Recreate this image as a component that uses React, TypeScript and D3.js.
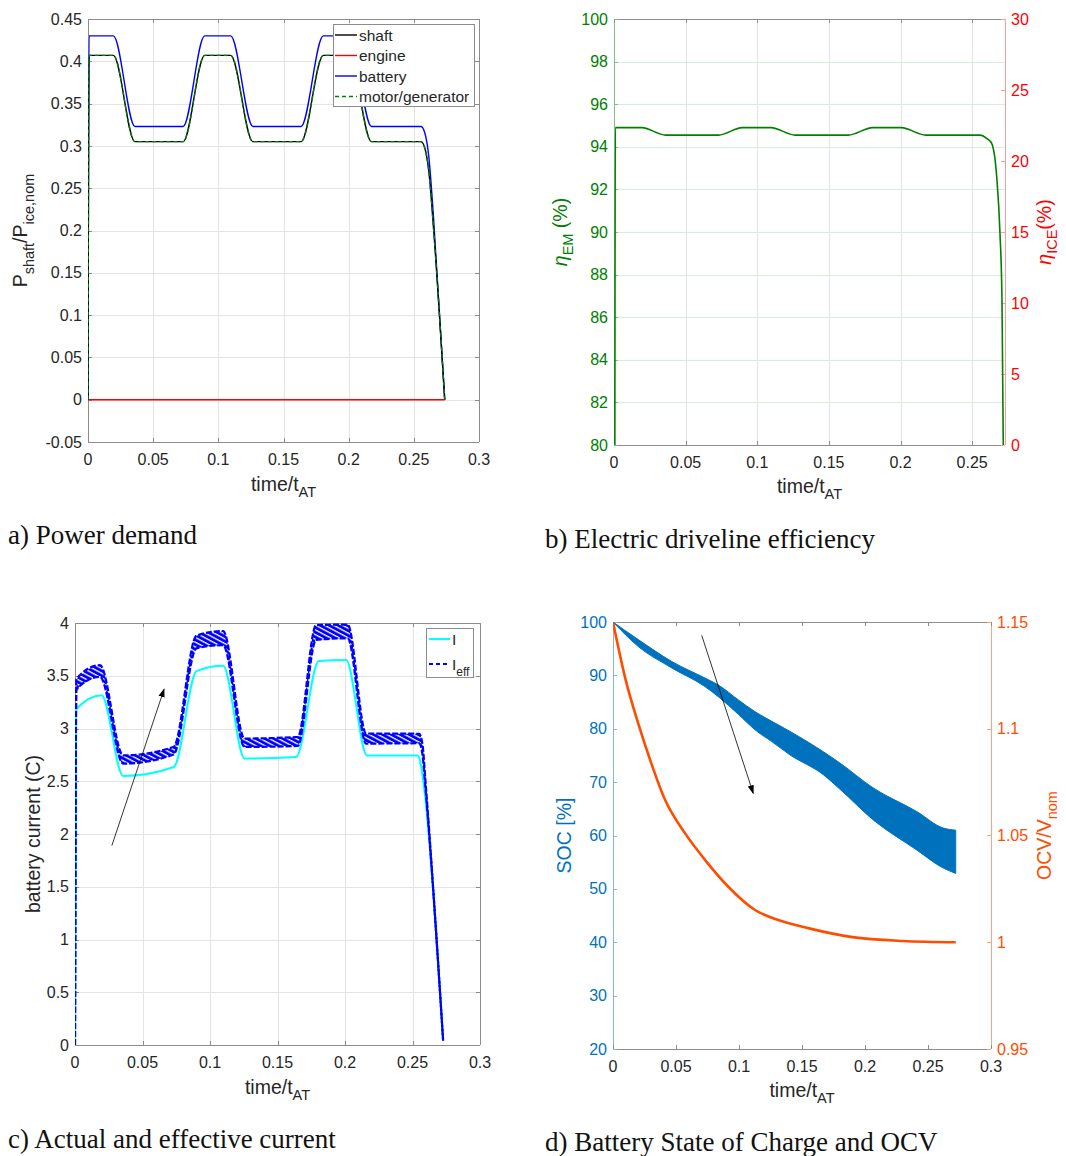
import React from "react";
import * as d3 from "d3";

// ---------------- Panel a: power demand ----------------
const powerTime = [0, 0.0008, 0.0195, 0.036, 0.073, 0.0895, 0.1095, 0.1265, 0.1635, 0.1805, 0.2005, 0.2175, 0.2555, 0.2585, 0.2615, 0.265, 0.2737];
const shaftPower = [0, 0.407, 0.407, 0.305, 0.305, 0.407, 0.407, 0.305, 0.305, 0.407, 0.407, 0.305, 0.305, 0.297, 0.27, 0.205, 0];
const motorPower = [0, 0.407, 0.407, 0.305, 0.305, 0.407, 0.407, 0.305, 0.305, 0.407, 0.407, 0.305, 0.305, 0.297, 0.27, 0.205, 0];
const batteryPower = [0, 0.43, 0.43, 0.323, 0.323, 0.43, 0.43, 0.323, 0.323, 0.43, 0.43, 0.323, 0.323, 0.315, 0.287, 0.218, 0];
const engineTime = [0, 0.2737];
const enginePower = [0, 0];
const powerLegend = ["shaft", "engine", "battery", "motor/generator"];

// ---------------- Panel b: efficiency ----------------
const effTime = [0.0006, 0.0009, 0.0195, 0.036, 0.073, 0.0895, 0.1095, 0.1265, 0.1635, 0.1805, 0.2005, 0.2175, 0.2554, 0.2601, 0.2636, 0.2671, 0.2694, 0.2708, 0.2717];
const effEM = [80, 94.9, 94.9, 94.55, 94.55, 94.9, 94.9, 94.55, 94.55, 94.9, 94.9, 94.55, 94.55, 94.4, 94.16, 92.6, 89.94, 86.8, 80];

// ---------------- Panel c: battery current ----------------
const curTime = [0, 0.0007, 0.0197, 0.0357, 0.0732, 0.09, 0.1097, 0.1256, 0.1638, 0.1806, 0.2008, 0.2163, 0.2537, 0.2555, 0.258, 0.2727];
const curI = [0, 3.18, 3.316, 2.55, 2.635, 3.544, 3.595, 2.715, 2.73, 3.64, 3.65, 2.745, 2.745, 2.7, 2.5, 0.04];
const effCurTime = [0, 0.001, 0.0185, 0.0357, 0.073, 0.09, 0.1097, 0.1256, 0.165, 0.1786, 0.202, 0.2156, 0.255, 0.2575, 0.2595, 0.2727];
const effCurLow = [0, 3.37, 3.49, 2.667, 2.753, 3.76, 3.79, 2.825, 2.835, 3.84, 3.855, 2.857, 2.86, 2.74, 2.45, 0.04];
const effCurHigh = [0, 3.47, 3.6, 2.745, 2.825, 3.88, 3.924, 2.905, 2.92, 3.98, 3.985, 2.953, 2.95, 2.84, 2.52, 0.04];
const arrowC = { from: [0.0273, 1.89], to: [0.066, 3.373] };

// ---------------- Panel d: SOC and OCV ----------------
const socTime = [0, 0.0201, 0.0466, 0.073, 0.0836, 0.0995, 0.1127, 0.126, 0.1405, 0.1669, 0.18, 0.2066, 0.241, 0.2621, 0.272];
const socHigh = [100, 96.7, 92.6, 89.5, 88.2, 85.4, 83.2, 81.4, 79.5, 75.7, 73.6, 68.9, 64.5, 61.4, 61];
const socLow = [100, 95.4, 91.4, 87.9, 86.0, 82.7, 79.8, 77.6, 75.1, 71.4, 68.7, 62.9, 57.3, 53.9, 52.9];
const ocvTime = [0, 0.01, 0.02, 0.03, 0.0413, 0.0571, 0.073, 0.0915, 0.1127, 0.1312, 0.1556, 0.19, 0.23, 0.272];
const ocvRatio = [1.15, 1.123, 1.1025, 1.0845, 1.0667, 1.0511, 1.0386, 1.026, 1.0151, 1.0104, 1.0065, 1.0024, 1.0006, 1.0];
const arrowD = { from: [0.0704, 97.5], to: [0.1113, 67.9] };

// ---------------- ticks ----------------
const timeTicks = [0, 0.05, 0.1, 0.15, 0.2, 0.25, 0.3];
const powerTicks = [-0.05, 0, 0.05, 0.1, 0.15, 0.2, 0.25, 0.3, 0.35, 0.4, 0.45];
const emTicks = [80, 82, 84, 86, 88, 90, 92, 94, 96, 98, 100];
const iceTicks = [0, 5, 10, 15, 20, 25, 30];
const currentTicks = [0, 0.5, 1, 1.5, 2, 2.5, 3, 3.5, 4];
const socTicks = [20, 30, 40, 50, 60, 70, 80, 90, 100];
const ocvTicks = [0.95, 1, 1.05, 1.1, 1.15];
const captions = ["a) Power demand", "b) Electric driveline efficiency", "c) Actual and effective current", "d) Battery State of Charge and OCV"];

// ---------------- styles ----------------
const SANS = "'Liberation Sans', Arial, Helvetica, sans-serif";
const SERIF = "'Liberation Serif', 'Times New Roman', serif";
const TXT = "#262626";
const AXIS = "#8c8c8c";
const GRID = "#e4e4e4";
const TICK_FS = 16;
const LABEL_FS = 19.5;
const SUB_FS = 14.5;

type Lin = d3.ScaleLinear<number, number>;
const px = (v: number) => Math.round(v) + 0.5;
const fmt = (v: number) => String(+v.toFixed(3));

function pairs(t: number[], v: number[]): [number, number][] {
  return t.map((ti, i) => [ti, v[i]] as [number, number]);
}
function pathOf(x: Lin, y: Lin, t: number[], v: number[]) {
  return d3.line<[number, number]>().x(d => x(d[0])).y(d => y(d[1])).curve(d3.curveMonotoneX)(pairs(t, v)) || "";
}
function bandOf(x: Lin, y: Lin, t: number[], lo: number[], hi: number[]) {
  const data = t.map((ti, i) => ({ t: ti, lo: lo[i], hi: hi[i] }));
  return d3.area<{ t: number; lo: number; hi: number }>().x(d => x(d.t)).y0(d => y(d.lo)).y1(d => y(d.hi)).curve(d3.curveMonotoneX)(data) || "";
}

interface FrameProps {
  x: Lin; y: Lin; xt: number[]; yt: number[];
  grid?: boolean; gridH?: string;
  leftAxis?: string; rightAxis?: string; leftText?: string;
  yR?: Lin; ytR?: number[]; rightText?: string;
}

function Frame(p: FrameProps) {
  const [x0, x1] = p.x.range();
  const [yb, yt0] = p.y.range();
  const xd = p.x.domain()[1];
  const xt = p.xt.filter(t => t <= xd + 1e-9);
  const L = 4;
  return (
    <g>
      {p.grid && xt.map(t => (
        <line key={"gx" + t} x1={px(p.x(t))} x2={px(p.x(t))} y1={yt0} y2={yb} stroke={GRID} strokeWidth={1} />
      ))}
      {p.grid && p.yt.map(v => (
        <line key={"gy" + v} x1={x0} x2={x1} y1={px(p.y(v))} y2={px(p.y(v))} stroke={p.gridH || GRID} strokeWidth={1} />
      ))}
      <line x1={x0} x2={x1} y1={px(yb)} y2={px(yb)} stroke={AXIS} />
      <line x1={x0} x2={x1} y1={px(yt0)} y2={px(yt0)} stroke={AXIS} />
      <line x1={px(x0)} x2={px(x0)} y1={yt0} y2={yb} stroke={p.leftAxis || AXIS} />
      <line x1={px(x1)} x2={px(x1)} y1={yt0} y2={yb} stroke={p.rightAxis || AXIS} />
      {xt.map(t => (
        <g key={"tx" + t}>
          <line x1={px(p.x(t))} x2={px(p.x(t))} y1={yb} y2={yb - L} stroke={AXIS} />
          <line x1={px(p.x(t))} x2={px(p.x(t))} y1={yt0} y2={yt0 + L} stroke={AXIS} />
          <text x={p.x(t)} y={yb + 23} textAnchor="middle" fontSize={TICK_FS} fill={TXT}>{fmt(t)}</text>
        </g>
      ))}
      {p.yt.map(v => (
        <g key={"ty" + v}>
          <line x1={x0} x2={x0 + L} y1={px(p.y(v))} y2={px(p.y(v))} stroke={p.leftAxis || AXIS} />
          {!p.yR && <line x1={x1} x2={x1 - L} y1={px(p.y(v))} y2={px(p.y(v))} stroke={AXIS} />}
          <text x={x0 - 6} y={p.y(v)} dy="0.35em" textAnchor="end" fontSize={TICK_FS} fill={p.leftText || TXT}>{fmt(v)}</text>
        </g>
      ))}
      {p.yR && p.ytR && p.ytR.map(v => (
        <g key={"tr" + v}>
          <line x1={x1} x2={x1 - L} y1={px(p.yR!(v))} y2={px(p.yR!(v))} stroke={p.rightAxis || AXIS} />
          <text x={x1 + 6} y={p.yR!(v)} dy="0.35em" textAnchor="start" fontSize={TICK_FS} fill={p.rightText || TXT}>{fmt(v)}</text>
        </g>
      ))}
    </g>
  );
}

function TimeLabel({ cx, y }: { cx: number; y: number }) {
  return (
    <text x={cx} y={y} textAnchor="middle" fontSize={LABEL_FS} fill={TXT}>
      time/t<tspan fontSize={SUB_FS} dy={6}>AT</tspan>
    </text>
  );
}

function Clip({ id, x, y }: { id: string; x: Lin; y: Lin }) {
  const [x0, x1] = x.range();
  const [yb, yt0] = y.range();
  return (
    <clipPath id={id}>
      <rect x={x0} y={yt0} width={x1 - x0 + 1} height={yb - yt0 + 1} />
    </clipPath>
  );
}

function PanelA() {
  const x = d3.scaleLinear().domain([0, 0.3]).range([88, 479]);
  const y = d3.scaleLinear().domain([-0.05, 0.45]).range([442, 19]);
  const legendColors = ["#000000", "#FF0000", "#0000FF", "#008000"];
  const lx = 333, ly = 24;
  return (
    <g>
      <Clip id="clipA" x={x} y={y} />
      <Frame x={x} y={y} xt={timeTicks} yt={powerTicks} grid />
      <g clipPath="url(#clipA)" fill="none">
        <path d={pathOf(x, y, engineTime, enginePower)} stroke="#FF0000" strokeWidth={1.4} />
        <path d={pathOf(x, y, powerTime, batteryPower)} stroke="#0000FF" strokeWidth={1.4} />
        <path d={pathOf(x, y, powerTime, shaftPower)} stroke="#000000" strokeWidth={1.4} />
        <path d={pathOf(x, y, powerTime, motorPower)} stroke="#008000" strokeWidth={1.4} strokeDasharray="4 3" />
      </g>
      <g>
        <rect x={px(lx)} y={px(ly)} width={141} height={82} fill="#fff" stroke={AXIS} />
        {powerLegend.map((name, i) => {
          const yy = ly + 11 + i * 20.5;
          return (
            <g key={name}>
              <line x1={lx + 2} x2={lx + 24} y1={yy} y2={yy} stroke={legendColors[i]} strokeWidth={1.4} strokeDasharray={i === 3 ? "4 3" : undefined} />
              <text x={lx + 26} y={yy + 5.5} fontSize={15.5} fill={TXT}>{name}</text>
            </g>
          );
        })}
      </g>
      <TimeLabel cx={283.5} y={491} />
      <text transform="translate(27,230.5) rotate(-90)" textAnchor="middle" fontSize={LABEL_FS} fill={TXT}>
        P<tspan fontSize={SUB_FS} dy={7}>shaft</tspan><tspan dy={-7}>/P</tspan><tspan fontSize={SUB_FS} dy={7}>ice,nom</tspan>
      </text>
    </g>
  );
}

function PanelB() {
  const x = d3.scaleLinear().domain([0, 0.2729]).range([614, 1005]);
  const y = d3.scaleLinear().domain([80, 100]).range([445, 19]);
  const yR = d3.scaleLinear().domain([0, 30]).range([445, 19]);
  return (
    <g>
      <Clip id="clipB" x={x} y={y} />
      <Frame x={x} y={y} xt={timeTicks} yt={emTicks} grid gridH="#dcecdc" leftAxis="#7fbf7f" rightAxis="#ff9a9a" leftText="#008000" yR={yR} ytR={iceTicks} rightText="#FF0000" />
      <g clipPath="url(#clipB)" fill="none">
        <path d={pathOf(x, y, effTime, effEM)} stroke="#008000" strokeWidth={1.6} />
      </g>
      <TimeLabel cx={809.5} y={493} />
      <text transform="translate(567,232) rotate(-90)" textAnchor="middle" fontSize={LABEL_FS} fill="#008000">
        <tspan fontStyle="italic">η</tspan><tspan fontSize={SUB_FS} dy={6}>EM</tspan><tspan dy={-6}> (%)</tspan>
      </text>
      <text transform="translate(1051,232) rotate(-90)" textAnchor="middle" fontSize={LABEL_FS} fill="#FF0000">
        <tspan fontStyle="italic">η</tspan><tspan fontSize={SUB_FS} dy={6}>ICE</tspan><tspan dy={-6}>(%)</tspan>
      </text>
    </g>
  );
}

function PanelC() {
  const x = d3.scaleLinear().domain([0, 0.3]).range([75, 480]);
  const y = d3.scaleLinear().domain([0, 4]).range([1045, 623]);
  const lx = 426, ly = 628;
  return (
    <g>
      <Clip id="clipC" x={x} y={y} />
      <defs>
        <pattern id="hatch" patternUnits="userSpaceOnUse" width={6} height={4.2} patternTransform="rotate(28)">
          <rect x={0} y={0} width={6} height={4.2} fill="#0000FF" />
          <rect x={0} y={0} width={6} height={1.3} fill="#ffffff" />
        </pattern>
        <marker id="ahC" viewBox="0 0 10 10" refX={9} refY={5} markerWidth={9} markerHeight={9} orient="auto" markerUnits="userSpaceOnUse">
          <path d="M0,1.5 L10,5 L0,8.5 z" fill="#000" />
        </marker>
      </defs>
      <Frame x={x} y={y} xt={timeTicks} yt={currentTicks} grid />
      <g clipPath="url(#clipC)" fill="none">
        <path d={pathOf(x, y, curTime, curI)} stroke="#00FFFF" strokeWidth={2} />
        <path d={bandOf(x, y, effCurTime.slice(1), effCurLow.slice(1), effCurHigh.slice(1))} fill="url(#hatch)" stroke="none" />
        <path d={pathOf(x, y, effCurTime, effCurLow)} stroke="#0000FF" strokeWidth={2.2} strokeDasharray="6 2" />
        <path d={pathOf(x, y, effCurTime, effCurHigh)} stroke="#0000FF" strokeWidth={2.2} strokeDasharray="6 2" />
      </g>
      <line x1={x(arrowC.from[0])} y1={y(arrowC.from[1])} x2={x(arrowC.to[0])} y2={y(arrowC.to[1])} stroke="#000" strokeWidth={0.8} markerEnd="url(#ahC)" />
      <g>
        <rect x={px(lx)} y={px(ly)} width={47} height={49} fill="#fff" stroke={AXIS} />
        <line x1={lx + 3} x2={lx + 24} y1={ly + 11} y2={ly + 11} stroke="#00FFFF" strokeWidth={2} />
        <text x={lx + 26} y={ly + 17} fontSize={15.5} fill={TXT}>I</text>
        <line x1={lx + 3} x2={lx + 24} y1={ly + 36} y2={ly + 36} stroke="#0000FF" strokeWidth={2.2} strokeDasharray="4 3" />
        <text x={lx + 26} y={ly + 42} fontSize={15.5} fill={TXT}>I<tspan fontSize={12} dy={6}>eff</tspan></text>
      </g>
      <TimeLabel cx={277.5} y={1094} />
      <text transform="translate(40,834) rotate(-90)" textAnchor="middle" fontSize={LABEL_FS} fill={TXT}>battery current (C)</text>
    </g>
  );
}

function PanelD() {
  const x = d3.scaleLinear().domain([0, 0.3]).range([613, 991]);
  const y = d3.scaleLinear().domain([20, 100]).range([1049, 622]);
  const yR = d3.scaleLinear().domain([0.95, 1.15]).range([1049, 622]);
  const SOC = "#0072BD";
  const OCV = "#FF4D00";
  return (
    <g>
      <Clip id="clipD" x={x} y={y} />
      <defs>
        <marker id="ahD" viewBox="0 0 10 10" refX={9} refY={5} markerWidth={9} markerHeight={9} orient="auto" markerUnits="userSpaceOnUse">
          <path d="M0,1.5 L10,5 L0,8.5 z" fill="#000" />
        </marker>
      </defs>
      <Frame x={x} y={y} xt={timeTicks} yt={socTicks} leftAxis="#7fb8de" rightAxis="#ffa27f" leftText={SOC} yR={yR} ytR={ocvTicks} rightText={OCV} />
      <g clipPath="url(#clipD)">
        <path d={bandOf(x, y, socTime, socLow, socHigh)} fill={SOC} stroke={SOC} strokeWidth={1} />
        <path d={pathOf(x, yR, ocvTime, ocvRatio)} fill="none" stroke={OCV} strokeWidth={2.6} />
      </g>
      <line x1={x(arrowD.from[0])} y1={y(arrowD.from[1])} x2={x(arrowD.to[0])} y2={y(arrowD.to[1])} stroke="#000" strokeWidth={0.8} markerEnd="url(#ahD)" />
      <TimeLabel cx={802} y={1097} />
      <text transform="translate(571,835.5) rotate(-90)" textAnchor="middle" fontSize={LABEL_FS} fill={SOC}>SOC [%]</text>
      <text transform="translate(1051,835.5) rotate(-90)" textAnchor="middle" fontSize={LABEL_FS} fill={OCV}>
        OCV/V<tspan fontSize={SUB_FS} dy={6}>nom</tspan>
      </text>
    </g>
  );
}

export default function App() {
  const capPos = [[8, 544], [545, 548], [8, 1148], [545, 1151]];
  return (
    <div style={{ position: "absolute", left: 0, top: 0 }}>
      <svg width={1066} height={1156} viewBox="0 0 1066 1156" style={{ display: "block", background: "#fff" }} fontFamily={SANS}>
        <rect x={0} y={0} width={1066} height={1156} fill="#fff" />
        <PanelA />
        <PanelB />
        <PanelC />
        <PanelD />
        {captions.map((c, i) => (
          <text key={c} x={capPos[i][0]} y={capPos[i][1]} fontFamily={SERIF} fontSize={27} fill="#111">{c}</text>
        ))}
      </svg>
    </div>
  );
}
